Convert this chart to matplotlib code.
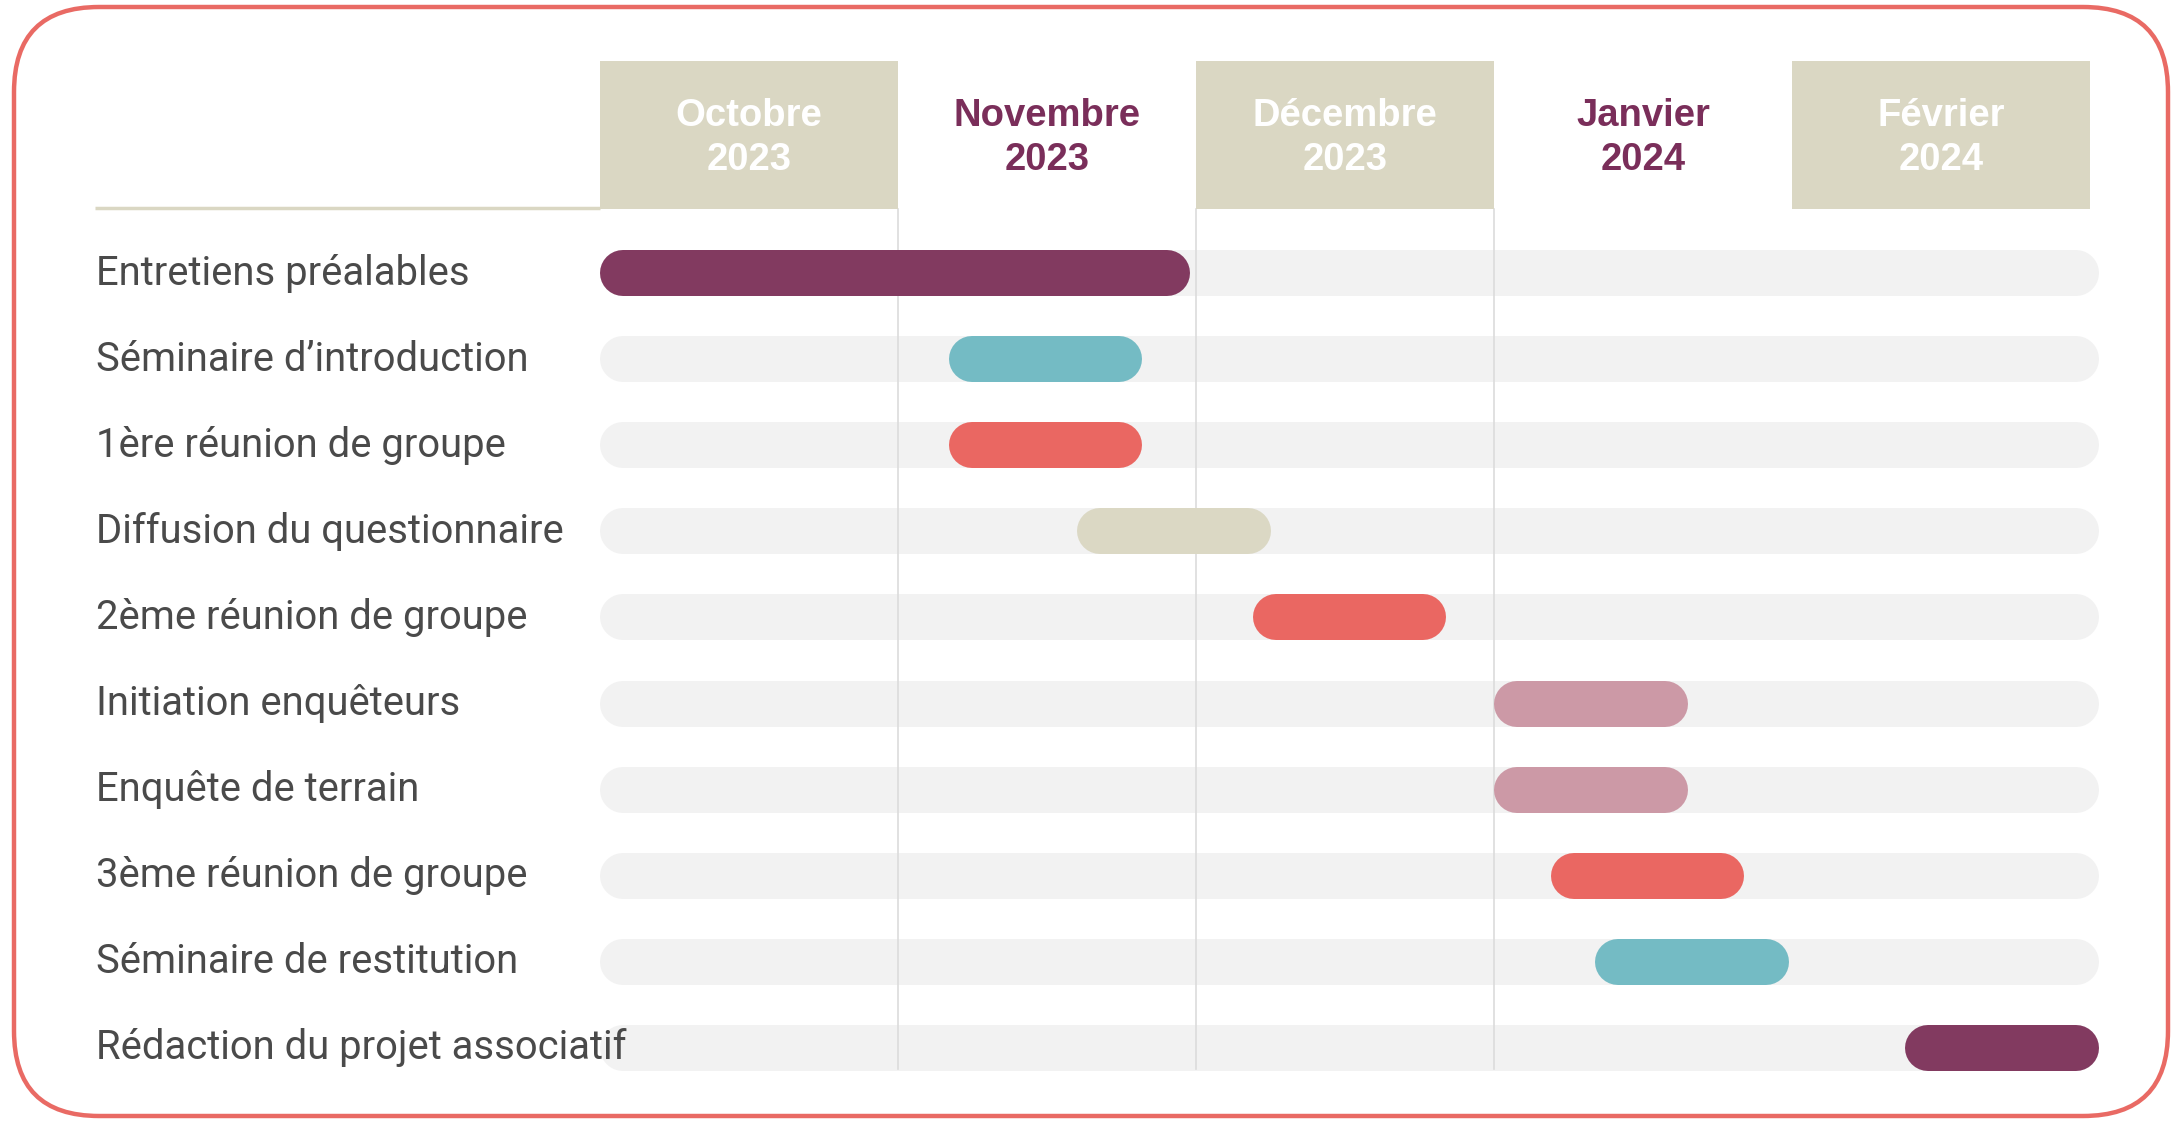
import matplotlib
matplotlib.use("Agg")
import matplotlib.pyplot as plt
from matplotlib.patches import Rectangle, FancyBboxPatch
from matplotlib.transforms import IdentityTransform

plt.rcParams['font.family'] = ['Roboto', 'DejaVu Sans']

month_names = ["Octobre", "Novembre", "Décembre", "Janvier", "Février"]
month_years = ["2023", "2023", "2023", "2024", "2024"]
month_shaded = [True, False, True, False, True]

tasks = ["Entretiens préalables", "Séminaire d\u2019introduction", "1ère réunion de groupe",
         "Diffusion du questionnaire", "2ème réunion de groupe", "Initiation enquêteurs",
         "Enquête de terrain", "3ème réunion de groupe", "Séminaire de restitution",
         "Rédaction du projet associatif"]
# start / end in months from 1 Oct 2023
starts = [0.0, 1.17, 1.17, 1.60, 2.19, 3.00, 3.00, 3.19, 3.34, 4.38]
ends = [1.98, 1.82, 1.82, 2.25, 2.84, 3.65, 3.65, 3.84, 3.99, 5.03]
bar_colors = ["#823A60", "#74BBC4", "#EA6762", "#DBD8C4", "#EA6762", "#CC99A6",
              "#CC99A6", "#EA6762", "#74BBC4", "#823A60"]

track_end = 5.03
beige = "#DAD7C3"
purple = "#7A2E5A"

W, H = 2177, 1121
fig = plt.figure(figsize=(W / 100, H / 100), dpi=100)
ax = fig.add_axes([0, 0, 1, 1])
ax.set_axis_off()

# month width 298 px starting at x=600, rows every 86.1 px from y=273
mw, x0 = 298.0, 600.0
rh, y0 = 86.1, 273.0
ax.set_xlim(-x0 / mw, (W - x0) / mw)
ax.set_ylim((H - y0) / rh, -y0 / rh)

bar_px = 46
half = bar_px / 2 / mw
lw = bar_px * 72 / 100

# header
head_top, head_bot = (61 - y0) / rh, (209 - y0) / rh
for i, (m, yr, sh) in enumerate(zip(month_names, month_years, month_shaded)):
    if sh:
        ax.add_patch(Rectangle((i, head_top), 1, head_bot - head_top, color=beige, lw=0, zorder=1))
    col = "white" if sh else purple
    ax.text(i + 0.5, (116 - y0) / rh, m, ha="center", va="center", fontsize=27.5,
            fontweight="bold", color=col, family="Liberation Sans", zorder=3)
    ax.text(i + 0.5, (160 - y0) / rh, yr, ha="center", va="center", fontsize=27.5,
            fontweight="bold", color=col, family="Liberation Sans", zorder=3)
ax.plot([(95 - x0) / mw, 0], [head_bot - 0.01, head_bot - 0.01], color=beige, lw=2.5,
        solid_capstyle="butt", zorder=1)

# vertical month separators
for xv in [1, 2, 3]:
    ax.plot([xv, xv], [head_bot, 9.25], color="#DCDCDC", lw=1.2, zorder=0.5)

# tracks, bars and labels
for r, (t, s, e, c) in enumerate(zip(tasks, starts, ends, bar_colors)):
    ax.plot([half, track_end - half], [r, r], color="#F2F2F2", lw=lw,
            solid_capstyle="round", zorder=0.2)
    ax.plot([s + half, e - half], [r, r], color=c, lw=lw, solid_capstyle="round", zorder=2)
    ax.text((96 - x0) / mw, r, t, ha="left", va="center", fontsize=28.8,
            color="#4A4A4A", zorder=3)

# rounded frame
frame = FancyBboxPatch((14, H - 1116), 2154, 1109, boxstyle="round,pad=0,rounding_size=85",
                       transform=IdentityTransform(), fill=False, ec="#E96A64", lw=3.2)
fig.patches.append(frame)

fig.savefig("out.png", dpi=100)
